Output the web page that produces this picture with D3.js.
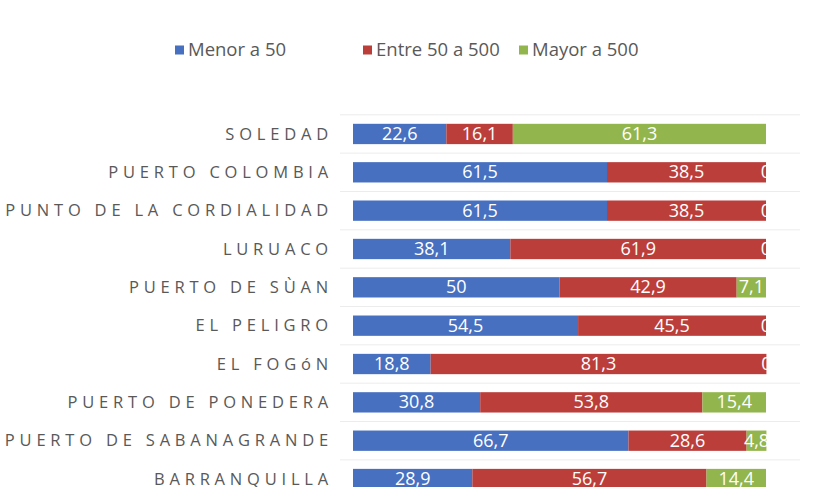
<html>
<head>
<meta charset="utf-8">
<style>
  body { margin: 0; background: #fff; }
  text { font-family: "Open Sans", sans-serif; }
</style>
</head>
<body>
<svg id="chart" width="839" height="487"></svg>
<script src="https://d3js.org/d3.v7.min.js"></script>
<script>
// data
const categories = ["SOLEDAD", "PUERTO COLOMBIA", "PUNTO DE LA CORDIALIDAD", "LURUACO",
  "PUERTO DE SÙAN", "EL PELIGRO", "EL FOGóN", "PUERTO DE PONEDERA",
  "PUERTO DE SABANAGRANDE", "BARRANQUILLA"]
const seriesNames = ["Menor a 50", "Entre 50 a 500", "Mayor a 500"]
const menor = [22.6, 61.5, 61.5, 38.1, 50, 54.5, 18.8, 30.8, 66.7, 28.9]
const entre = [16.1, 38.5, 38.5, 61.9, 42.9, 45.5, 81.3, 53.8, 28.6, 56.7]
const mayor = [61.3, 0, 0, 0, 7.1, 0, 0, 15.4, 4.8, 14.4]
const colors = ["#4770c0", "#bb3e3b", "#92b54d"]

let svg = d3.select("#chart")

let rows = categories.map((c, i) => ({ cat: c, values: [menor[i], entre[i], mayor[i]] }))

let x = d3.scaleLinear().domain([0, 100]).range([353, 766])
let y = d3.scaleBand()
  .domain(categories)
  .range([114.8, 498.2])
  .paddingInner(0.47)
  .paddingOuter(0.235)

// faint row separators
svg.append("g").selectAll("line")
  .data(categories)
  .join("line")
  .attr("x1", 340).attr("x2", 800)
  .attr("y1", d => y(d) - y.step() * 0.235)
  .attr("y2", d => y(d) - y.step() * 0.235)
  .attr("stroke", "#ececec")

svg.append("clipPath").attr("id", "plot")
  .append("rect").attr("x", 340).attr("y", 0).attr("width", 427).attr("height", 487)

let plot = svg.append("g").attr("clip-path", "url(#plot)")

rows.forEach(r => {
  let acc = 0
  r.values.forEach((v, k) => {
    let x0 = acc
    acc += v
    plot.append("rect")
      .attr("x", x(x0))
      .attr("y", y(r.cat))
      .attr("width", x(acc) - x(x0))
      .attr("height", y.bandwidth())
      .attr("fill", colors[k])
    plot.append("text")
      .attr("x", x(x0 + v / 2))
      .attr("y", y(r.cat) + y.bandwidth() / 2)
      .attr("dy", "0.33em")
      .attr("text-anchor", "middle")
      .attr("fill", "#fff")
      .style("font-size", "18px")
      .text(String(v).replace(".", ","))
  })
})

// category labels
svg.append("g").selectAll("text")
  .data(categories)
  .join("text")
  .attr("x", 333)
  .attr("y", d => y(d) + y.bandwidth() / 2)
  .attr("dy", "0.35em")
  .attr("text-anchor", "end")
  .attr("fill", "#595959")
  .style("font-size", "16.5px")
  .style("letter-spacing", "4.8px")
  .text(d => d)

// legend
let legendX = [175, 363, 519]
let legend = svg.append("g").selectAll("g")
  .data(seriesNames)
  .join("g")
  .attr("transform", (d, i) => "translate(" + legendX[i] + ",50)")
legend.append("rect")
  .attr("x", 0).attr("y", -4.5).attr("width", 9).attr("height", 9)
  .attr("fill", (d, i) => colors[i])
legend.append("text")
  .attr("x", 13).attr("dy", "0.35em")
  .attr("fill", "#595959")
  .style("font-size", "18.5px")
  .text(d => d)
</script>
</body>
</html>
